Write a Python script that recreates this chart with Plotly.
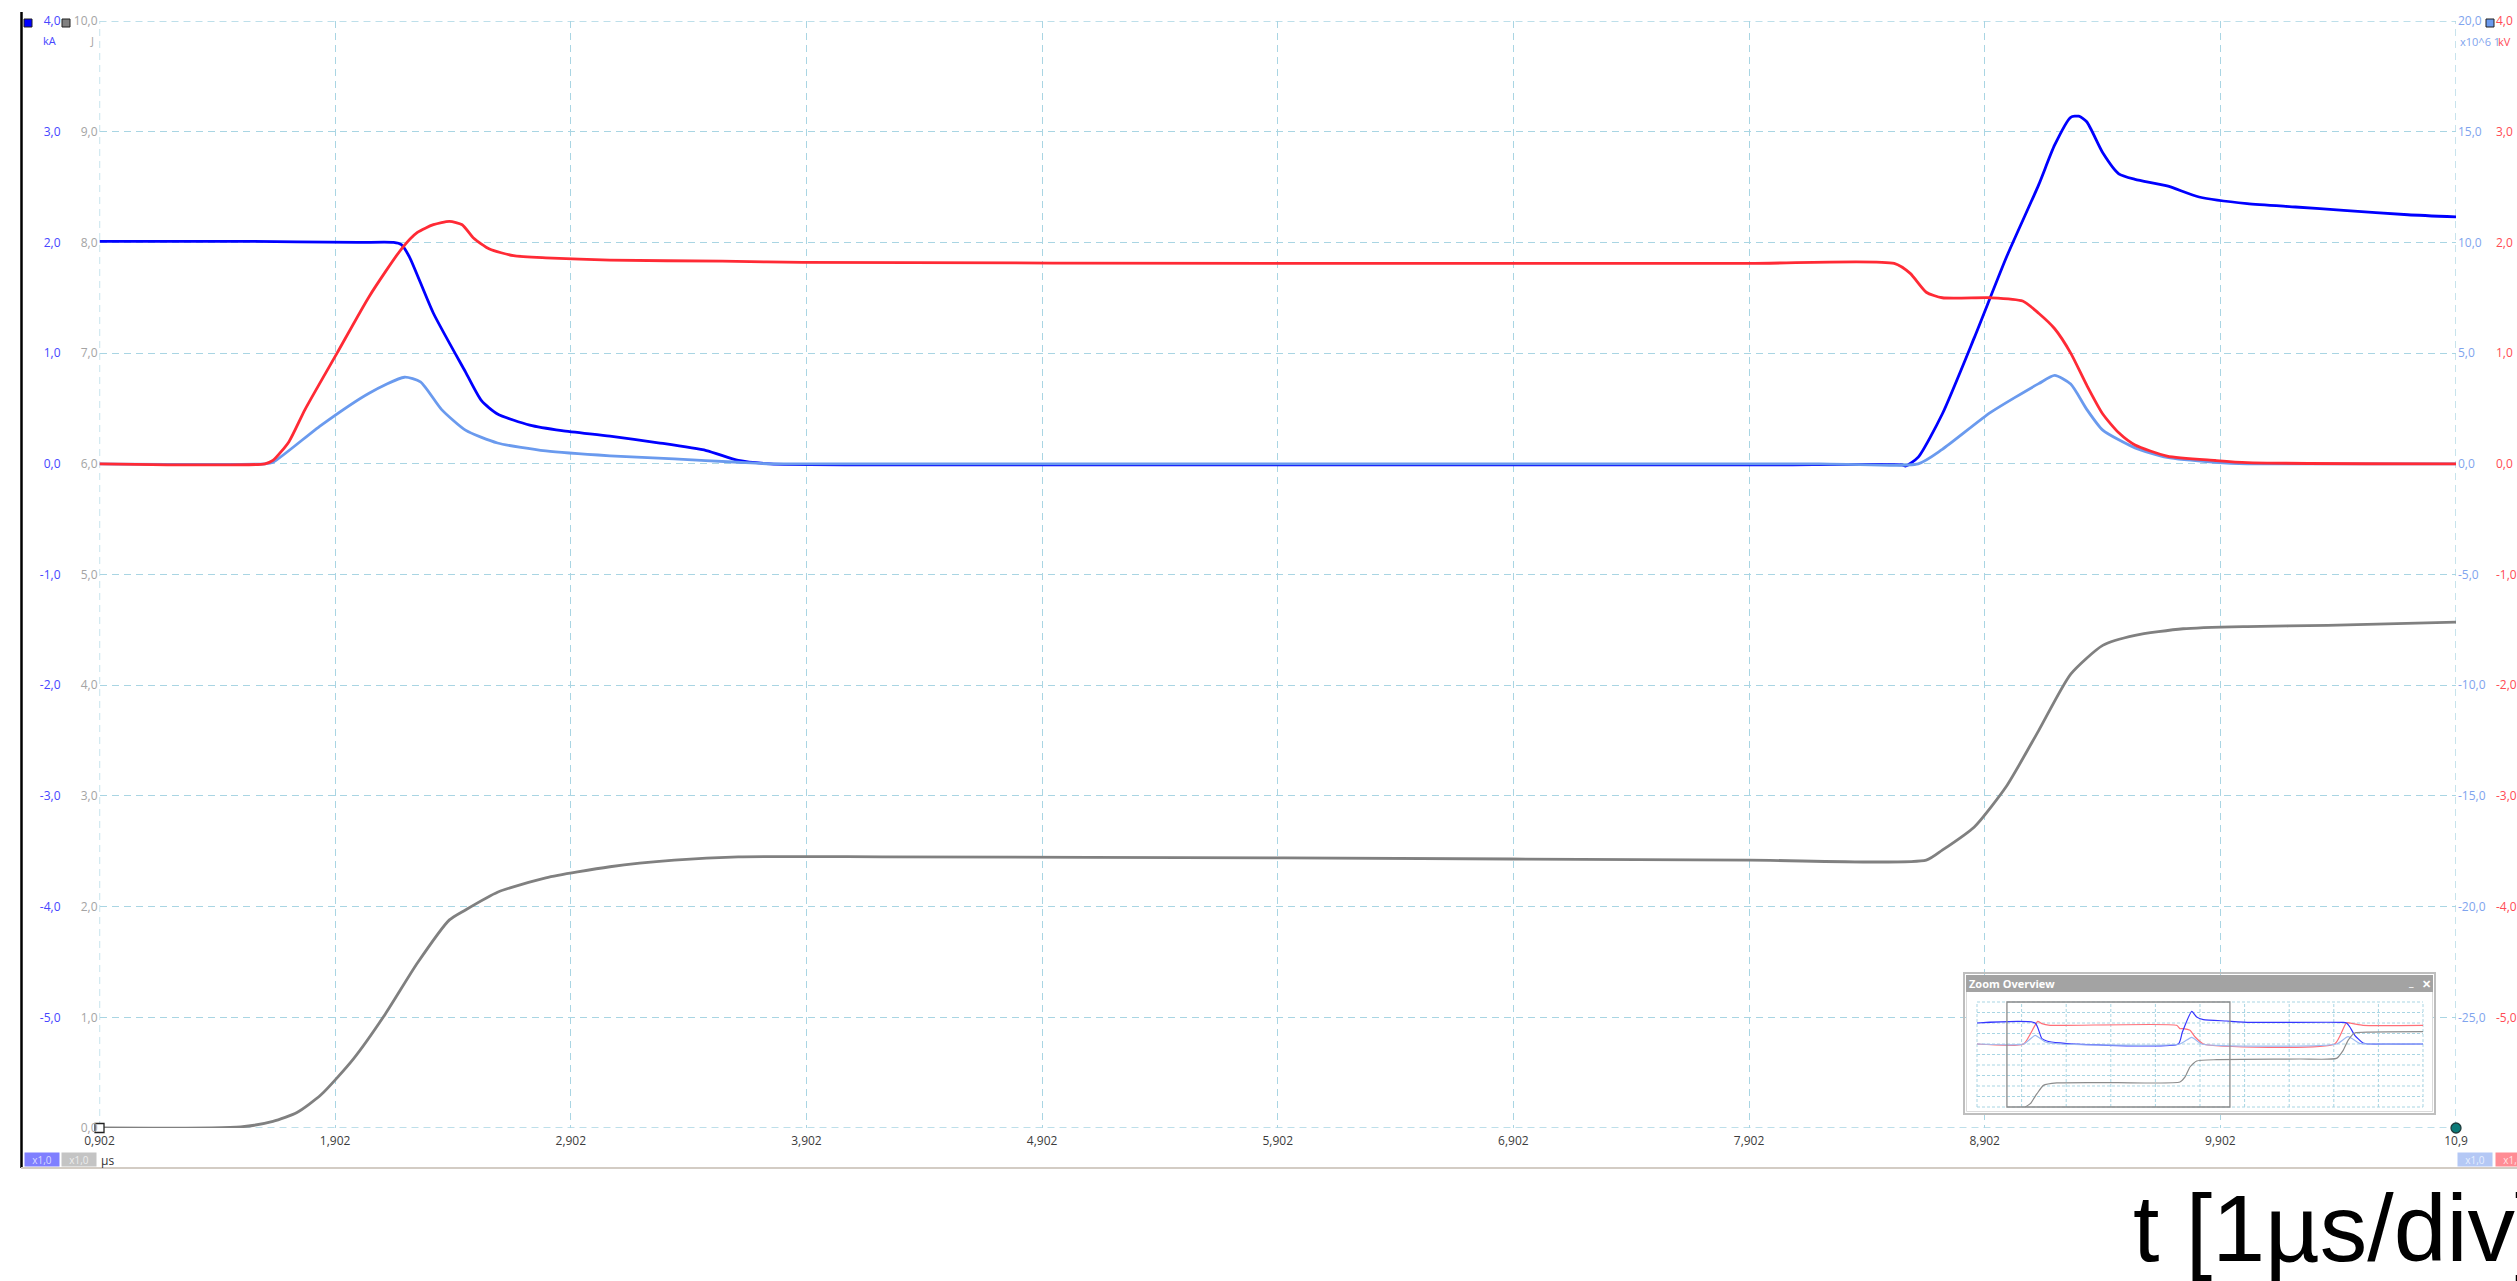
import plotly.graph_objects as go

# ---------------- data ----------------
# time axis (µs) and its labels
x_ticks = [0.902, 1.902, 2.902, 3.902, 4.902, 5.902, 6.902, 7.902, 8.902, 9.902, 10.902]
x_ticktext = ["0,902", "1,902", "2,902", "3,902", "4,902", "5,902", "6,902",
              "7,902", "8,902", "9,902", "10,9"]

# current, kA
i_t = [0.902, 1.5, 2.0, 2.150, 2.183, 2.217, 2.319, 2.455, 2.523, 2.591, 2.728, 2.864,
       3.068, 3.273, 3.477, 3.613, 3.749, 5.0, 6.5, 8.0, 8.552, 8.566, 8.620, 8.722,
       8.858, 8.995, 9.131, 9.199, 9.267, 9.301, 9.335, 9.403, 9.471, 9.540, 9.676,
       9.812, 10.016, 10.221, 10.425, 10.698, 10.902]
i_kA = [2.01, 2.01, 2.0, 2.0, 1.98, 1.87, 1.36, 0.83, 0.57, 0.45, 0.35, 0.30,
        0.25, 0.19, 0.12, 0.03, 0.0, -0.01, -0.01, -0.01, -0.01, -0.02, 0.06, 0.45,
        1.14, 1.87, 2.52, 2.88, 3.13, 3.14, 3.09, 2.81, 2.62, 2.57, 2.51,
        2.41, 2.35, 2.32, 2.29, 2.25, 2.23]

# voltage, kV
u_t = [0.902, 1.604, 1.638, 1.706, 1.774, 1.910, 2.046, 2.183, 2.251, 2.319, 2.387,
       2.441, 2.489, 2.557, 2.659, 2.796, 3.068, 3.545, 3.886, 5.929, 7.905, 8.518,
       8.586, 8.654, 8.722, 8.927, 9.063, 9.131, 9.199, 9.267, 9.335, 9.403, 9.471,
       9.540, 9.676, 9.880, 10.016, 10.902]
u_kV = [0.0, 0.0, 0.03, 0.2, 0.49, 1.0, 1.51, 1.94, 2.09, 2.16, 2.19,
        2.16, 2.04, 1.94, 1.88, 1.86, 1.84, 1.83, 1.82, 1.81, 1.81, 1.81,
        1.72, 1.55, 1.5, 1.5, 1.47, 1.36, 1.22, 1.0, 0.71, 0.45, 0.28,
        0.17, 0.07, 0.03, 0.01, 0.0]

# current slope, x10^6 1/s
d_t = [0.902, 1.604, 1.638, 1.842, 2.046, 2.196, 2.264, 2.353, 2.455, 2.591, 2.796,
       3.068, 3.341, 3.613, 3.749, 4.5, 5.5, 6.5, 7.5, 8.2, 8.620, 8.722, 8.927,
       9.131, 9.199, 9.267, 9.335, 9.403, 9.540, 9.676, 9.880, 10.016, 10.5, 10.902]
d_val = [0.0, 0.0, 0.07, 1.74, 3.19, 3.91, 3.7, 2.46, 1.52, 0.94, 0.58,
         0.36, 0.22, 0.07, 0.0, 0.0, 0.0, 0.0, 0.0, 0.0, 0.0, 0.65, 2.32,
         3.62, 3.99, 3.6, 2.46, 1.52, 0.72, 0.29, 0.07, 0.0, 0.0, 0.0]

# energy, J
e_t = [0.902, 1.501, 1.638, 1.740, 1.842, 1.978, 2.115, 2.251, 2.387, 2.455, 2.591,
       2.796, 3.068, 3.341, 3.613, 4.226, 5.929, 7.905, 8.654, 8.722, 8.858, 8.995,
       9.131, 9.267, 9.403, 9.540, 9.744, 10.016, 10.357, 10.902]
e_J = [0.0, 0.01, 0.06, 0.14, 0.30, 0.62, 1.03, 1.49, 1.88, 1.97, 2.13,
       2.26, 2.36, 2.42, 2.45, 2.45, 2.44, 2.42, 2.42, 2.51, 2.72, 3.09,
       3.59, 4.10, 4.36, 4.45, 4.51, 4.53, 4.54, 4.57]

# overview record (wider time base, µs)
ov_i_t = [-0.44, 2.17, 2.47, 2.69, 3.29, 3.89, 8.59, 8.77, 9.19, 9.41, 9.71, 10.75,
          11.80, 15.98, 16.13, 16.28, 16.50, 16.87, 17.17, 19.56]
ov_i_kA = [2.0, 2.0, 0.51, 0.29, 0.1, 0.0, 0.0, 1.14, 3.11, 2.57, 2.32, 2.19,
           2.06, 2.06, 2.0, 1.62, 0.83, 0.10, 0.0, 0.0]
ov_u_t = [-0.44, 1.65, 2.28, 2.47, 2.84, 8.51, 8.66, 8.81, 9.11, 9.34, 9.71, 15.60,
          16.13, 16.43, 16.87, 19.56]
ov_u_kV = [0.0, 0.0, 2.16, 1.94, 1.78, 1.78, 1.46, 1.46, 1.3, 0.67, 0.0, 0.0,
           2.03, 1.94, 1.78, 1.78]
ov_d_t = [-0.44, 1.65, 2.17, 2.62, 3.29, 8.66, 9.19, 9.63, 15.68, 16.20, 16.72, 17.17, 19.56]
ov_d_val = [0.0, 0.0, 4.1, 0.95, 0.0, 0.0, 3.17, 0.0, 0.0, 3.5, 0.3, 0.0, 0.0]
ov_e_t = [1.72, 1.95, 2.25, 2.54, 3.14, 5.83, 8.66, 8.89, 9.11, 9.41, 10.31, 14.04,
          15.68, 15.98, 16.20, 16.50, 17.17, 19.56]
ov_e_J = [0.0, 0.32, 1.27, 2.06, 2.29, 2.32, 2.38, 2.86, 3.81, 4.38, 4.51, 4.57,
          4.63, 5.40, 6.35, 7.05, 7.14, 7.17]
ov_window = [0.902, 10.902]
ov_grid_t = [-0.44, 1.56, 3.56, 5.56, 7.56, 9.56, 11.56, 13.56, 15.56, 17.56, 19.56]
ov_grid_kA = [-6, -5, -4, -3, -2, -1, 0, 1, 2, 3, 4]

# vertical axis labels
kA_ticks = [-5, -4, -3, -2, -1, 0, 1, 2, 3, 4]
kA_text = ["-5,0", "-4,0", "-3,0", "-2,0", "-1,0", "0,0", "1,0", "2,0", "3,0", "4,0"]
J_ticks = [0, 1, 2, 3, 4, 5, 6, 7, 8, 9, 10]
J_text = ["0,0", "1,0", "2,0", "3,0", "4,0", "5,0", "6,0", "7,0", "8,0", "9,0", "10,0"]
d_ticks = [-25, -20, -15, -10, -5, 0, 5, 10, 15, 20]
d_text = ["-25,0", "-20,0", "-15,0", "-10,0", "-5,0", "0,0", "5,0", "10,0", "15,0", "20,0"]
kV_ticks = kA_ticks
kV_text = kA_text

# ---------------- styling ----------------
W, H = 2517, 1281
BLUE, GREY, LBLUE, RED = "#0000FF", "#808080", "#6A9AEE", "#FF2A35"
BLUE_TXT, GREY_TXT, LBLUE_TXT, RED_TXT = "#4646FF", "#A4A4A4", "#7FA4EE", "#FF4B55"
GRID = "#A9D5E3"
GRID_DASH = "7px,5px"
FONT = "Open Sans"


def fx(p):
    return p / W


def fy(p):
    return 1 - p / H


# plot area in page pixels
PX0, PX1, PY0, PY1 = 99.5, 2456, 21, 1128
xdom = [fx(PX0), fx(PX1)]
ydom = [fy(PY1), fy(PY0)]

fig = go.Figure()

main_line = dict(width=2.8, shape="spline", smoothing=0.6)
fig.add_trace(go.Scatter(x=e_t, y=e_J, yaxis="y", mode="lines",
                         line=dict(main_line, color=GREY)))
fig.add_trace(go.Scatter(x=d_t, y=d_val, yaxis="y3", mode="lines",
                         line=dict(main_line, color=LBLUE)))
fig.add_trace(go.Scatter(x=u_t, y=u_kV, yaxis="y4", mode="lines",
                         line=dict(main_line, color=RED)))
fig.add_trace(go.Scatter(x=i_t, y=i_kA, yaxis="y2", mode="lines",
                         line=dict(main_line, color=BLUE)))

# cursor markers at both ends of the time base
fig.add_trace(go.Scatter(x=[x_ticks[0]], y=[J_ticks[0]], yaxis="y", mode="markers",
                         cliponaxis=False,
                         marker=dict(symbol="square", size=9, color="white",
                                     line=dict(color="#222222", width=1.3))))
fig.add_trace(go.Scatter(x=[x_ticks[-1]], y=[J_ticks[0]], yaxis="y", mode="markers",
                         cliponaxis=False,
                         marker=dict(symbol="circle", size=10, color="#0B7A78",
                                     line=dict(color="#1E3C3C", width=1.3))))

# overview traces
ov_line = dict(width=1.2, shape="spline", smoothing=0.5)
fig.add_trace(go.Scatter(x=ov_e_t, y=ov_e_J, xaxis="x2", yaxis="y7", mode="lines",
                         line=dict(ov_line, color="#8C8C8C")))
fig.add_trace(go.Scatter(x=ov_d_t, y=ov_d_val, xaxis="x2", yaxis="y6", mode="lines",
                         line=dict(ov_line, color="#9DB9F2")))
fig.add_trace(go.Scatter(x=ov_u_t, y=ov_u_kV, xaxis="x2", yaxis="y5", mode="lines",
                         line=dict(ov_line, color="#FF6F78")))
fig.add_trace(go.Scatter(x=ov_i_t, y=ov_i_kA, xaxis="x2", yaxis="y5", mode="lines",
                         line=dict(ov_line, color="#3535FF")))

tick_font = dict(family=FONT, size=12)


def lin_range(dom_a, dom_b, grid_a, grid_b, val_a, val_b):
    """Axis range such that val_a sits at pixel grid_a and val_b at grid_b."""
    k = (val_b - val_a) / (grid_b - grid_a)
    return [val_a + (dom_a - grid_a) * k, val_a + (dom_b - grid_a) * k]


# overview window geometry (page pixels)
OV_DX0, OV_DX1, OV_DY0, OV_DY1 = 1966, 2433, 976, 1112
OV_GX0, OV_GX1, OV_GY0, OV_GY1 = 1977, 2423, 1002, 1107
ov_x_range = lin_range(OV_DX0, OV_DX1, OV_GX0, OV_GX1, ov_grid_t[0], ov_grid_t[-1])
ov_kA_range = lin_range(OV_DY1, OV_DY0, OV_GY1, OV_GY0, -6, 4)
ov_d_range = lin_range(OV_DY1, OV_DY0, OV_GY1, OV_GY0, -30, 20)
ov_J_range = lin_range(OV_DY1, OV_DY0, OV_GY1, OV_GY0, 0, 10)

fig.update_layout(
    width=W, height=H,
    margin=dict(l=0, r=0, t=0, b=0, pad=0, autoexpand=False),
    paper_bgcolor="white", plot_bgcolor="white",
    showlegend=False, hovermode=False,
    font=dict(family=FONT),
    xaxis=dict(domain=xdom, range=[x_ticks[0], x_ticks[-1]], anchor="y",
               tickmode="array", tickvals=x_ticks, ticktext=x_ticktext,
               tickfont=dict(family=FONT, size=12, color="#3C3C3C"),
               ticks="", showline=False, zeroline=False,
               showgrid=True, gridcolor=GRID, gridwidth=1.3, griddash=GRID_DASH,
               ticklabelstandoff=4, fixedrange=True, automargin=False),
    yaxis=dict(domain=ydom, range=[0, 10], anchor="x", side="left",
               tickmode="array", tickvals=J_ticks, ticktext=J_text,
               tickfont=dict(tick_font, color=GREY_TXT),
               showgrid=True, gridcolor=GRID, gridwidth=1.3, griddash=GRID_DASH,
               zeroline=False, showline=False, ticks="", ticklabelstandoff=1,
               fixedrange=True, automargin=False),
    yaxis2=dict(range=[-6, 4], overlaying="y", anchor="free", position=xdom[0],
                side="left", tickmode="array", tickvals=kA_ticks, ticktext=kA_text,
                tickfont=dict(tick_font, color=BLUE_TXT),
                showgrid=False, zeroline=False, showline=False, ticks="",
                ticklabelstandoff=39, fixedrange=True, automargin=False),
    yaxis3=dict(range=[-30, 20], overlaying="y", anchor="x", side="right",
                tickmode="array", tickvals=d_ticks, ticktext=d_text,
                tickfont=dict(tick_font, color=LBLUE_TXT),
                showgrid=False, zeroline=False, showline=False, ticks="",
                ticklabelstandoff=1, fixedrange=True, automargin=False),
    yaxis4=dict(range=[-6, 4], overlaying="y", anchor="free", position=xdom[1],
                side="right", tickmode="array", tickvals=kV_ticks, ticktext=kV_text,
                tickfont=dict(tick_font, color=RED_TXT),
                showgrid=False, zeroline=False, showline=False, ticks="",
                ticklabelstandoff=39, fixedrange=True, automargin=False),
    # overview subplot
    xaxis2=dict(domain=[fx(OV_DX0), fx(OV_DX1)], range=ov_x_range, anchor="y5",
                visible=False, fixedrange=True),
    yaxis5=dict(domain=[fy(OV_DY1), fy(OV_DY0)], range=ov_kA_range, anchor="x2",
                visible=False, fixedrange=True),
    yaxis6=dict(range=ov_d_range, overlaying="y5", anchor="x2", visible=False,
                fixedrange=True),
    yaxis7=dict(range=ov_J_range, overlaying="y5", anchor="x2", visible=False,
                fixedrange=True),
)

shapes = []
# border grid lines of the main plot area (dashed like the inner grid)
for xr in [x_ticks[0], x_ticks[-1]]:
    shapes.append(dict(type="line", xref="x", yref="y", x0=xr, x1=xr,
                       y0=J_ticks[0], y1=J_ticks[-1], layer="below",
                       line=dict(color=GRID, width=1.3, dash=GRID_DASH)))
for yr in [J_ticks[0], J_ticks[-1]]:
    shapes.append(dict(type="line", xref="x", yref="y", x0=x_ticks[0], x1=x_ticks[-1],
                       y0=yr, y1=yr, layer="below",
                       line=dict(color=GRID, width=1.3, dash=GRID_DASH)))
# overview grid
for t in ov_grid_t:
    shapes.append(dict(type="line", xref="x2", yref="y5", x0=t, x1=t,
                       y0=ov_grid_kA[0], y1=ov_grid_kA[-1], layer="below",
                       line=dict(color=GRID, width=1, dash="3px,2px")))
for v in ov_grid_kA:
    shapes.append(dict(type="line", xref="x2", yref="y5", x0=ov_grid_t[0],
                       x1=ov_grid_t[-1], y0=v, y1=v, layer="below",
                       line=dict(color=GRID, width=1, dash="3px,2px")))
# visible window inside the overview
shapes.append(dict(type="rect", xref="x2", yref="y5", x0=ov_window[0], x1=ov_window[1],
                   y0=ov_grid_kA[0], y1=ov_grid_kA[-1], layer="above",
                   line=dict(color="#8A8A8A", width=1.3)))
# overview window frame and title bar
shapes.append(dict(type="rect", xref="paper", yref="paper", x0=fx(1964), x1=fx(2435),
                   y0=fy(1114), y1=fy(973), layer="above",
                   line=dict(color="#BEBEBE", width=2)))
shapes.append(dict(type="rect", xref="paper", yref="paper", x0=fx(1966.5), x1=fx(2432.5),
                   y0=fy(1111.5), y1=fy(975.5), layer="above",
                   line=dict(color="#DADADA", width=1)))
shapes.append(dict(type="rect", xref="paper", yref="paper", x0=fx(1966), x1=fx(2433),
                   y0=fy(992), y1=fy(975), layer="above",
                   fillcolor="#A3A3A3", line=dict(width=0)))
# left border line and bottom status line
shapes.append(dict(type="line", xref="paper", yref="paper", x0=fx(21.5), x1=fx(21.5),
                   y0=fy(1168), y1=fy(12), layer="above",
                   line=dict(color="black", width=2.5)))
shapes.append(dict(type="line", xref="paper", yref="paper", x0=fx(21), x1=1,
                   y0=fy(1168), y1=fy(1168), layer="above",
                   line=dict(color="#D3CCC4", width=2)))
# channel colour squares
for x0, col in [(24, BLUE), (62, GREY), (2486, LBLUE)]:
    shapes.append(dict(type="rect", xref="paper", yref="paper", x0=fx(x0), x1=fx(x0 + 8),
                       y0=fy(27), y1=fy(19), layer="above", fillcolor=col,
                       line=dict(color="#202020", width=1)))
fig.update_layout(shapes=shapes)

ann = []


def text(s, x, y, color, size=11, xanchor="left", yanchor="middle", **kw):
    ann.append(dict(text=s, x=fx(x), y=fy(y), xref="paper", yref="paper",
                    xanchor=xanchor, yanchor=yanchor, showarrow=False,
                    font=dict(family=kw.pop("family", FONT), size=size, color=color),
                    **kw))


# unit labels under the top tick labels
text("kA", 58, 40, BLUE_TXT, xanchor="right")
text("J", 96, 40, GREY_TXT, xanchor="right")
text("x10^6 1", 2458, 41, LBLUE_TXT)
text("kV", 2496, 41, RED_TXT)

# scale badges and time unit
for cx, bg, fg in [(42, "#7F7FFF", "#DADAFF"), (79, "#C4C4C4", "#EDEDED"),
                   (2474.5, "#B4C8F5", "#E6EEFF"), (2512.5, "#FF8C94", "#FFE0E3")]:
    text("x1,0", cx, 1159.5, fg, size=10, xanchor="center", bgcolor=bg,
         width=34, height=13, borderpad=0)
text("µs", 99, 1160, "#333333", size=12)

# overview title bar
text("<b>Zoom Overview</b>", 1967, 983.5, "white", size=11)
text("<b>_</b>", 2411, 981, "white", size=11, xanchor="center")
text("<b>✕</b>", 2426, 983.5, "white", size=11, xanchor="center")

# time-base caption
text("t [1µs/div]", 2131, 1173, "black", size=95, yanchor="top",
     family="Liberation Sans, Arial")

fig.update_layout(annotations=ann)

fig.write_html("out.html", config={"displayModeBar": False})
